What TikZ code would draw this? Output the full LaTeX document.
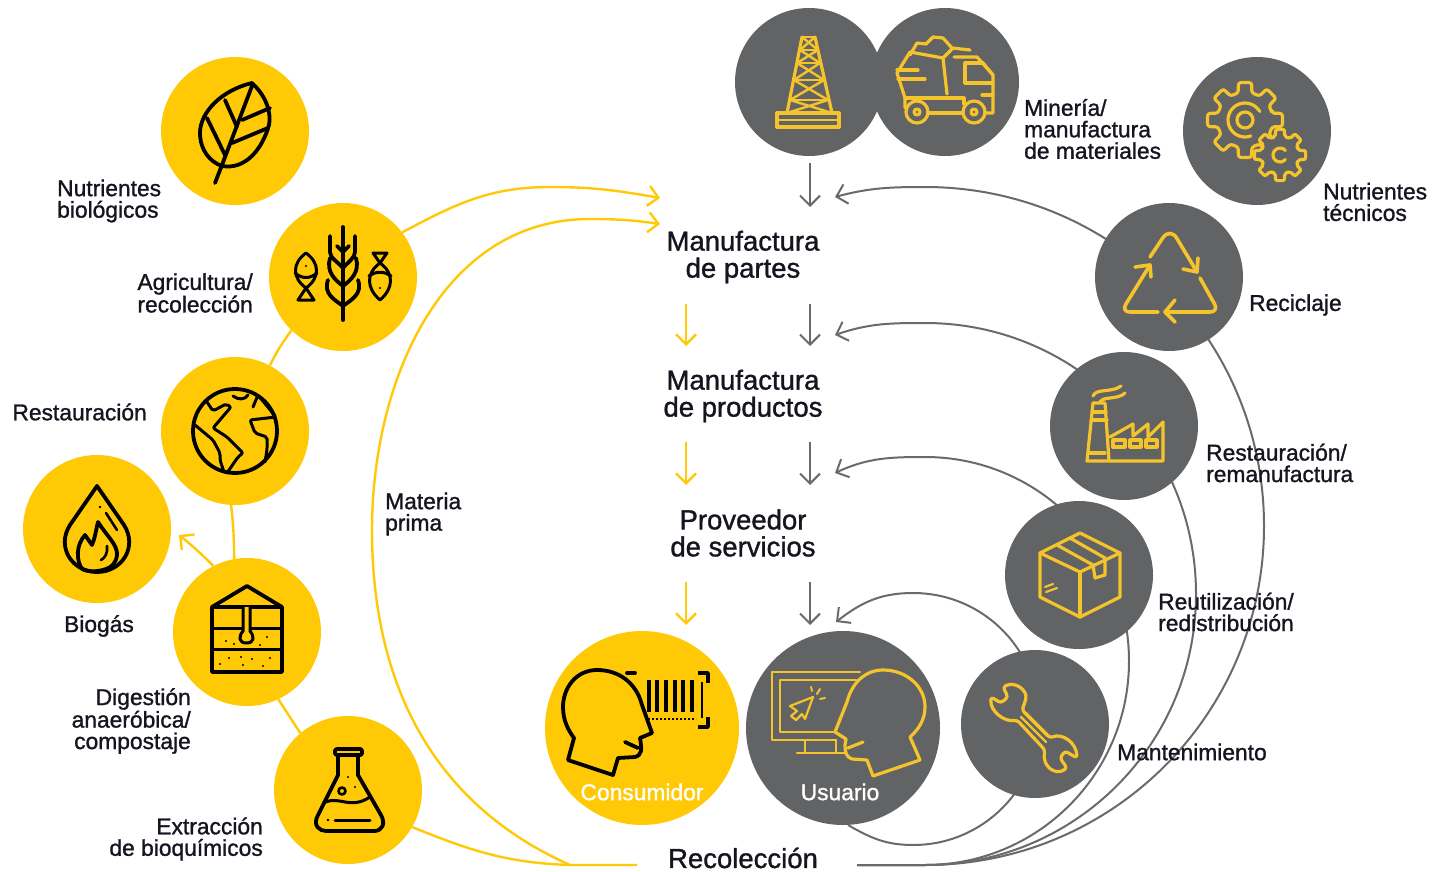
\documentclass[tikz,border=0pt]{standalone}
\usepackage{fontspec}
\setmainfont{Liberation Sans}[FakeBold=1.2]
\usetikzlibrary{arrows.meta}
\definecolor{disc}{HTML}{FFCA05}
\definecolor{slate}{HTML}{626365}
\definecolor{wire}{HTML}{696A6C}
\definecolor{glyph}{HTML}{F5C42C}
\definecolor{ink}{HTML}{15151F}
\tikzstyle{goldnode}=[circle,fill=disc,minimum size=148pt,inner sep=0pt]
\tikzstyle{greynode}=[circle,fill=slate,minimum size=148pt,inner sep=0pt]
\tikzstyle{small}=[font=\fontsize{22.8}{21.5}\selectfont,inner sep=0pt,text=ink]
\tikzstyle{big}=[font=\fontsize{27.5}{27}\selectfont,inner sep=0pt,align=center,text=ink]
\tikzstyle{yline}=[line width=2.4pt,disc]
\tikzstyle{gline}=[line width=2pt,wire]
\tikzstyle{yarrow}=[yline,-{Straight Barb[length=10pt,width=20pt]}]
\tikzstyle{garrow}=[gline,-{Straight Barb[length=10pt,width=20pt]}]
\tikzstyle{blackicon}=[line width=3.8pt,black,line join=round,line cap=round]
\tikzstyle{goldicon}=[line width=3.2pt,glyph,line join=round,line cap=round]

\begin{document}
\begin{tikzpicture}[x=1pt,y=-1pt]
\useasboundingbox (0,0) rectangle (1432,872);

% loop ends
\coordinate (left)   at (637,865);
\coordinate (joinL)  at (570,865);
\coordinate (right)  at (857,865);
\coordinate (botA)   at (925,865);
\coordinate (sideA)  at (1264,526);
\coordinate (topA)   at (925,187);
\coordinate (inA)    at (835,197);
\coordinate (sideB)  at (1196,594);
\coordinate (topB)   at (925,323);
\coordinate (inB)    at (835,335);
\coordinate (sideC)  at (1129,661);
\coordinate (topC)   at (925,457);
\coordinate (inC)    at (835,473);
\coordinate (botD)   at (913,845);
\coordinate (sideD)  at (1039,719);
\coordinate (topD)   at (913,593);
\coordinate (inD)    at (836,622);
\coordinate (matL)   at (372,530);
\coordinate (matT)   at (590,219);
\coordinate (inMat)  at (660,224);
\coordinate (agrT)   at (550,187);
\coordinate (inAgr)  at (660,198);
\coordinate (inBio)  at (179,535);

% down arrows
\coordinate (g1) at (810,163);  \coordinate (g2) at (810,207);
\coordinate (g3) at (810,304);  \coordinate (g4) at (810,346);
\coordinate (g5) at (810,442);  \coordinate (g6) at (810,485);
\coordinate (g7) at (810,582);  \coordinate (g8) at (810,625);
\coordinate (y1) at (686,304);  \coordinate (y2) at (686,346);
\coordinate (y3) at (686,442);  \coordinate (y4) at (686,485);
\coordinate (y5) at (686,582);  \coordinate (y6) at (686,625);

\node[greynode,minimum size=194pt] (user) at (843,728) {};

\draw[garrow] (right) -- (botA) to[out=0,in=-90] (sideA) to[out=90,in=0] (topA) to[out=180,in=15] (inA);
\draw[garrow] (right) -- (botA) to[out=0,in=-90] (sideB) to[out=90,in=0] (topB) to[out=180,in=19] (inB);
\draw[garrow] (right) -- (botA) to[out=0,in=-90] (sideC) to[out=90,in=0] (topC) to[out=180,in=25] (inC);
\draw[garrow] (user.-87) to[out=-30,in=180] (botD) to[out=0,in=-90] (sideD) to[out=90,in=0] (topD) to[out=180,in=38] (inD);

\draw[garrow] (g1) -- (g2);
\draw[garrow] (g3) -- (g4);
\draw[garrow] (g5) -- (g6);
\draw[garrow] (g7) -- (g8);
\draw[yarrow] (y1) -- (y2);
\draw[yarrow] (y3) -- (y4);
\draw[yarrow] (y5) -- (y6);

\node[goldnode] (leaf)   at (235,131) {};
\node[goldnode] (agri)   at (343,277) {};
\node[goldnode] (earth)  at (235,431) {};
\node[goldnode] (biogas) at (97,529)  {};
\node[goldnode] (digest) at (247,632) {};
\node[goldnode] (flask)  at (348,790) {};
\node[goldnode,minimum size=194pt] (consumer) at (642,728) {};
\node[greynode] (rig)    at (809,82)  {};
\node[greynode] (truck)  at (945,82)  {};
\node[greynode] (gears)  at (1257,131) {};
\node[greynode] (recycle) at (1169,277) {};
\node[greynode] (factory) at (1124,426) {};
\node[greynode] (box)    at (1079,575) {};
\node[greynode] (wrench) at (1035,724) {};

\draw[yline] (left) -- (joinL) to[out=156,in=-90] (matL) to[out=90,in=180] (matT);
\draw[yarrow] (matT) to[out=0,in=172] (inMat);
\draw[yline] (agri.37) to[out=28,in=180] (agrT);
\draw[yarrow] (agrT) to[out=0,in=170] (inAgr);
\draw[yline] (flask.-30) to[out=-22,in=178] (joinL);
\draw[yline] (agri.-134) to[bend right=5] (earth.62);
\draw[yline] (earth.-93) to[bend left=3] (digest.100);
\draw[yline] (digest.-65) -- (flask.130);
\draw[yarrow] (digest.117) to[bend right=3] (inBio);

% leaf
\draw[blackicon] (252,83) .. controls (222,90) and (200,112) .. (200,133) .. controls (200,150) and (210,162) .. (222,166)
  .. controls (245,170) and (262,150) .. (269,125) .. controls (272,108) and (262,92) .. (252,83) -- cycle;
\draw[blackicon] (215,183) -- (222,165) -- (252,86);
\draw[blackicon] (225,100) -- (237,127);
\draw[blackicon] (207,118) -- (225,155);
\draw[blackicon] (270,108) -- (242,120);
\draw[blackicon] (268,128) -- (232,143);

% wheat and fish
\draw[blackicon] (343,227) -- (343,320);
\draw[blackicon] (330,236) -- (330,252) .. controls (330,258) and (338,262) .. (343,268) .. controls (348,262) and (355,258) .. (355,252) -- (355,236);
\draw[blackicon] (337,246) -- (343,252) -- (349,246);
\draw[blackicon] (330,258) .. controls (326,272) and (335,280) .. (343,286) .. controls (351,280) and (360,272) .. (356,258);
\draw[blackicon] (328,280) .. controls (323,294) and (335,300) .. (343,306) .. controls (351,300) and (363,294) .. (358,280);
\draw[blackicon,line width=3pt] (306,253) .. controls (292,263) and (292,278) .. (306,288) .. controls (320,278) and (320,263) .. (306,253) -- cycle;
\draw[blackicon,line width=3pt] (306,288) -- (298,300) -- (314,300) -- cycle;
\draw[blackicon,line width=3pt] (295,273) .. controls (302,279) and (310,279) .. (317,273);
\fill (306,266) circle[radius=1.2];
\draw[blackicon,line width=3pt] (380,263) .. controls (366,273) and (366,288) .. (380,300) .. controls (394,288) and (394,273) .. (380,263) -- cycle;
\draw[blackicon,line width=3pt] (380,263) -- (373,253) -- (387,253) -- cycle;
\draw[blackicon,line width=3pt] (369,276) .. controls (376,271) and (384,271) .. (391,276);
\fill (380,288) circle[radius=1.2];

% globe
\draw[blackicon] (235,431) circle[radius=42];
\draw[blackicon,line width=3pt,rounded corners=2pt] (207,402) -- (213,411) -- (226,404) -- (231,407) -- (213,428) -- (227,437) -- (243,453) -- (238,457) -- (227,473);
\draw[blackicon,line width=3pt,rounded corners=2pt] (195,425) -- (213,440) -- (220,453) -- (220,460) -- (224,472);
\draw[blackicon,line width=3pt,rounded corners=2pt] (253,407) -- (258,395) -- (276,417) -- (250,420) -- (255,433) -- (267,437) -- (267,450) -- (265,462);
\draw[blackicon,line width=3pt] (233,396) .. controls (238,400) and (245,400) .. (248,395);

% biogas drop
\draw[blackicon] (97,486) -- (70,525) .. controls (56,547) and (72,572) .. (97,572) .. controls (122,572) and (138,547) .. (124,525) -- cycle;
\draw[blackicon,line width=2.6pt] (106,513) -- (117,530);
\fill (100,507) circle[radius=1.3];
\draw[blackicon] (82,569) .. controls (76,560) and (76,545) .. (85,535) -- (92,545) .. controls (95,538) and (96,530) .. (98,522) .. controls (106,535) and (118,545) .. (117,555) .. controls (116,563) and (112,567) .. (106,569) .. controls (98,572) and (88,572) .. (82,569);
\draw[blackicon,line width=2.6pt] (101,560) .. controls (105,558) and (108,553) .. (107,546);

% digester
\draw[blackicon] (212,607) -- (247,586) -- (282,607);
\draw[blackicon] (212,607) rectangle (282,672);
\draw[blackicon,line width=3pt] (212,628) -- (282,628);
\draw[blackicon,line width=3pt] (212,649) -- (282,649);
\draw[blackicon,line width=3pt,fill=disc] (243,607) -- (243,631) .. controls (238,637) and (239,643) .. (246.5,643) .. controls (254,643) and (255,637) .. (250,631) -- (250,607);
\fill (226,641) circle[radius=1.2];
\fill (234,644) circle[radius=1.2];
\fill (267,637) circle[radius=1.2];
\fill (260,645) circle[radius=1.2];
\fill (229,658) circle[radius=1.2];
\fill (241,657) circle[radius=1.2];
\fill (252,659) circle[radius=1.2];
\fill (270,658) circle[radius=1.2];
\fill (220,664) circle[radius=1.2];
\fill (243,665) circle[radius=1.2];
\fill (263,666) circle[radius=1.2];

% flask
\draw[blackicon] (338,755) -- (338,775) -- (318,815) .. controls (312,826) and (320,831) .. (326,831) -- (374,831) .. controls (382,831) and (386,824) .. (381,815) -- (358,775) -- (358,755);
\draw[blackicon,rounded corners=2pt] (335,749) -- (362,749) -- (362,755) -- (335,755) -- cycle;
\draw[blackicon,line width=3pt] (326,802) .. controls (340,796) and (350,810) .. (370,797);
\draw[blackicon,line width=2.6pt] (342,791) circle[radius=3.5];
\draw[blackicon,line width=3pt] (335,820) -- (370,820);
\fill (328,820) circle[radius=1.3];
\fill (348,777) circle[radius=1.2];
\fill (355,787) circle[radius=1.2];

% consumer head and barcode
\draw[blackicon] (568,760) -- (613,775) -- (618,758) -- (635,757) .. controls (642,755) and (642,750) .. (640,738) -- (652,733) -- (642,705)
  .. controls (636,682) and (618,670) .. (597,670) .. controls (576,670) and (563,688) .. (563,707) .. controls (563,720) and (568,730) .. (574,738) -- cycle;
\draw[blackicon] (625,742) -- (638,748);
\draw[blackicon] (627,673) -- (635,673);
\draw[blackicon,line cap=butt] (698,673) -- (708,673) -- (708,683);
\draw[blackicon,line cap=butt] (698,727) -- (708,727) -- (708,717);
\draw[black,line width=3.2pt] (649,680) -- (649,712);
\draw[black,line width=3.2pt] (657,680) -- (657,712);
\draw[black,line width=3.2pt] (666,680) -- (666,712);
\draw[black,line width=3.2pt] (675,680) -- (675,712);
\draw[black,line width=3.2pt] (683,680) -- (683,712);
\draw[black,line width=3.2pt] (692,680) -- (692,712);
\draw[black,line width=2pt] (702,682) -- (702,718);
\draw[black,line width=2pt,dotted] (648,719) -- (696,719);

% user screen and head
\draw[goldicon,line width=2.4pt] (860,672) -- (772,672) -- (772,740) -- (836,740);
\draw[goldicon,line width=2.4pt] (856,680) -- (780,680) -- (780,732) -- (836,732);
\draw[goldicon,line width=2.4pt] (805,740) -- (805,752);
\draw[goldicon,line width=2.4pt] (836,740) -- (836,752);
\draw[goldicon,line width=2.4pt] (797,753) -- (845,753);
\draw[goldicon,line width=2.2pt] (813,697) -- (790,706) -- (797,711) -- (791,716) -- (796,720) -- (802,714) -- (805,719) -- cycle;
\draw[goldicon,line width=2pt] (811,687) -- (812,691);
\draw[goldicon,line width=2pt] (820,689) -- (817,694);
\draw[goldicon,line width=2pt] (820,699) -- (825,698);
\draw[goldicon,fill=slate] (835,732) -- (847,702) .. controls (852,682) and (866,670) .. (883,670) .. controls (906,670) and (925,686) .. (925,707) .. controls (925,720) and (918,730) .. (910,737)
  -- (920,760) -- (873,776) -- (867,760) -- (852,759) .. controls (846,757) and (845,752) .. (845,745) -- (846,739) -- cycle;
\draw[goldicon] (863,742) -- (848,748);

% rig
\draw[goldicon] (802,37) -- (787,113);
\draw[goldicon] (815,37) -- (832,113);
\draw[goldicon,line width=2.4pt] (802,37) -- (815,37);
\draw[goldicon,line width=2.4pt] (800,50) -- (818,50);
\draw[goldicon,line width=2.4pt] (797,63) -- (820,63);
\draw[goldicon,line width=2.4pt] (794,80) -- (824,80);
\draw[goldicon,line width=2.4pt] (790,100) -- (828,100);
\draw[goldicon,line width=2.4pt] (802,37) -- (818,50) -- (797,63) -- (824,80) -- (790,100) -- (832,113);
\draw[goldicon,line width=2.4pt] (815,37) -- (800,50) -- (820,63) -- (794,80) -- (828,100) -- (787,113);
\draw[goldicon] (777,113) rectangle (839,127);
\draw[goldicon,line width=2.4pt] (777,120) -- (839,120);

% truck
\draw[goldicon] (910,55) -- (917,43) -- (926,44) -- (933,37) -- (943,38) -- (952,48) -- (970,50);
\draw[goldicon] (910,52) -- (943,58) -- (952,49);
\draw[goldicon] (910,52) -- (897,73) -- (905,98) -- (905,108);
\draw[goldicon] (943,58) -- (947,94);
\draw[goldicon] (905,98) -- (964,98) -- (964,104);
\draw[goldicon] (954,57) -- (977,57) -- (993,75) -- (993,113) -- (985,113);
\draw[goldicon] (983,63) -- (965,63) -- (965,83) -- (993,83);
\draw[goldicon] (983,63) -- (993,75);
\draw[goldicon] (928,113) -- (963,113);
\draw[goldicon] (917,112) circle[radius=11];
\draw[goldicon] (917,112) circle[radius=3];
\draw[goldicon] (974,112) circle[radius=11];
\draw[goldicon] (974,112) circle[radius=3];
\draw[goldicon] (897,70) -- (918,70);
\draw[goldicon] (898,79) -- (925,79);
\draw[goldicon] (982,95) -- (993,95);

% gears
\begin{scope}[shift={(1245,120)}]
\draw[goldicon,rounded corners=2.5pt] (-14:28) \foreach \a in {0,45,...,315} { -- (\a-10:38) -- (\a+10:38) -- (\a+14:28) -- (\a+31:28) } -- cycle;
\draw[goldicon] (0,0) circle[radius=8];
\draw[goldicon] (70:17) arc[start angle=70,end angle=330,radius=17];
\end{scope}
\begin{scope}[shift={(1280,155)}]
\draw[goldicon,fill=slate,rounded corners=2pt] (-14:19) \foreach \a in {0,45,...,315} { -- (\a-10:26) -- (\a+10:26) -- (\a+14:19) -- (\a+31:19) } -- cycle;
\draw[goldicon] (40:7) arc[start angle=40,end angle=320,radius=7];
\end{scope}

% recycle
\draw[goldicon,line width=3.6pt,rounded corners=13pt] (1150,257) -- (1170,227) -- (1197,272);
\draw[goldicon,line width=3.6pt] (1198,258) -- (1197,272) -- (1183,269);
\draw[goldicon,line width=3.6pt,rounded corners=9pt] (1200,278) -- (1219,312) -- (1165,312);
\draw[goldicon,line width=3.6pt] (1175,300) -- (1165,312) -- (1175,322);
\draw[goldicon,line width=3.6pt,rounded corners=9pt] (1158,312) -- (1121,312) -- (1150,265);
\draw[goldicon,line width=3.6pt] (1135,267) -- (1150,265) -- (1151,277);

% factory
\draw[goldicon] (1093,403) -- (1105,403) -- (1109,461);
\draw[goldicon] (1093,403) -- (1087,461) -- (1163,461) -- (1163,422) -- (1148,437) -- (1148,424) -- (1133,436) -- (1133,424) -- (1110,437);
\draw[goldicon] (1092,412) -- (1106,412);
\draw[goldicon] (1091,420) -- (1107,420);
\draw[goldicon] (1088,453) -- (1105,453);
\draw[goldicon] (1113,440) rectangle (1125,447);
\draw[goldicon] (1130,440) rectangle (1141,447);
\draw[goldicon] (1146,440) rectangle (1157,447);
\draw[goldicon] (1093,396) .. controls (1096,388) and (1112,393) .. (1121,386);
\draw[goldicon] (1100,402) .. controls (1103,396) and (1118,400) .. (1125,393);

% box
\draw[goldicon] (1080,533) -- (1120,553) -- (1120,597) -- (1080,617) -- (1040,597) -- (1040,553) -- cycle;
\draw[goldicon] (1040,553) -- (1080,572) -- (1120,553);
\draw[goldicon] (1080,572) -- (1080,617);
\draw[goldicon] (1057,545) -- (1093,565) -- (1095,578) -- (1105,575) -- (1105,558) -- (1070,538);
\draw[goldicon,line width=2.2pt] (1045,587) -- (1053,584);
\draw[goldicon,line width=2.2pt] (1046,592) -- (1057,588);

% wrench
\draw[goldicon,rounded corners=3pt] (1003,687) .. controls (1015,681) and (1028,690) .. (1025,702) -- (1022,710) -- (1050,738) .. controls (1062,733) and (1076,742) .. (1077,758)
  -- (1065,751) -- (1060,758) -- (1067,768) .. controls (1055,776) and (1042,766) .. (1045,750) -- (1017,720) .. controls (1005,722) and (990,712) .. (991,697) -- (1001,703) -- (1008,697) -- cycle;
\draw[goldicon,line width=2.2pt] (1021,717) -- (1046,742);
\draw[goldicon,line width=2.2pt] (1026,713) -- (1050,737);

\node[small,align=left,anchor=west] (l1) at (57,201) {Nutrientes\\biológicos};
\node[small,align=right,anchor=east] (l2) at (253,293) {Agricultura/\\recolección};
\node[small,anchor=east] (l3) at (147,412) {Restauración};
\node[small] (l4) at (99,626) {Biogás};
\node[small,align=right,anchor=east] (l5) at (191,721) {Digestión\\anaeróbica/\\compostaje};
\node[small,align=right,anchor=east] (l6) at (263,839) {Extracción\\de bioquímicos};
\node[small,align=left,anchor=west] (l7) at (385,514) {Materia\\prima};
\node[small,align=left,anchor=west] (l8) at (1024,129) {Minería/\\manufactura\\de materiales};
\node[small,align=left,anchor=west] (l9) at (1323,202) {Nutrientes\\técnicos};
\node[small,anchor=west] (l10) at (1249,305) {Reciclaje};
\node[small,align=left,anchor=west] (l11) at (1206,463) {Restauración/\\remanufactura};
\node[small,align=left,anchor=west] (l12) at (1158,612) {Reutilización/\\redistribución};
\node[small,anchor=west] (l13) at (1117,752) {Mantenimiento};
\node[small,text=white] (l14) at (642,792) {Consumidor};
\node[small,text=white] (l15) at (840,792) {Usuario};

\node[big] (m1) at (743,257) {Manufactura\\de partes};
\node[big] (m2) at (743,396) {Manufactura\\de productos};
\node[big] (m3) at (743,533) {Proveedor\\de servicios};
\node[big] (m4) at (743,858) {Recolección};
\end{tikzpicture}
\end{document}
